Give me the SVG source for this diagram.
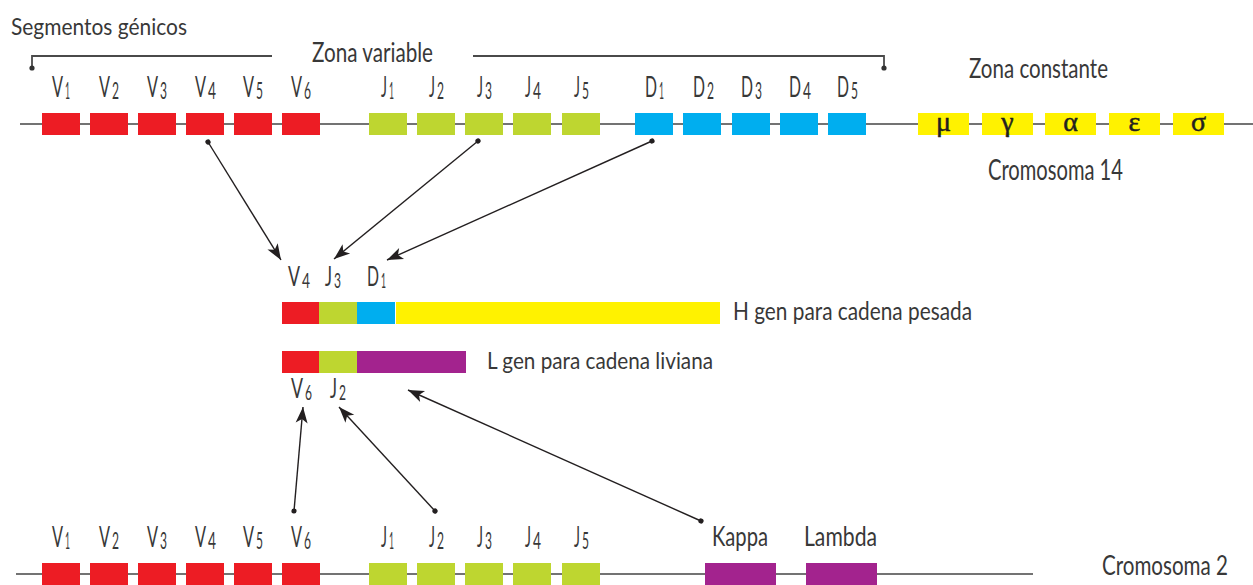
<svg xmlns="http://www.w3.org/2000/svg" width="1253" height="585" viewBox="0 0 1253 585">
<style>
text{font-family:Lato,"Liberation Sans",sans-serif;font-weight:400;fill:#383838}
.L{font-size:29px}
.d{font-size:24px}
.Lm{font-size:26px}
.dm{font-size:22px}
.gr{font-family:"Liberation Serif","DejaVu Serif",serif;font-weight:400;font-size:28px;text-anchor:middle;fill:#231f20;stroke:#231f20;stroke-width:0.5}
.chr{stroke:#444;stroke-width:1.6;fill:none}
.br{stroke:#4a4a4a;stroke-width:1.8;fill:none}
.r{fill:#ed1c24}.g{fill:#bed630}.b{fill:#00aeef}.y{fill:#fff200}.p{fill:#a3238e}
.ar{stroke:#231f20;stroke-width:1.4;fill:none;marker-start:url(#dot);marker-end:url(#head)}
</style>
<defs>
<marker id="head" markerUnits="userSpaceOnUse" markerWidth="18" markerHeight="14" refX="16" refY="6" orient="auto" overflow="visible">
<path d="M0,0 L16,6 L0,12 L4,6 Z" fill="#231f20"/>
</marker>
<marker id="dot" markerUnits="userSpaceOnUse" markerWidth="6" markerHeight="6" refX="3" refY="3" orient="auto" overflow="visible">
<circle cx="3" cy="3" r="2.6" fill="#231f20"/>
</marker>
</defs>

<g id="titles">
<text x="11" y="35" textLength="176" lengthAdjust="spacingAndGlyphs" style="font-size:24px">Segmentos génicos</text>
<text x="312" y="62" textLength="121" lengthAdjust="spacingAndGlyphs" style="font-size:26px">Zona variable</text>
<text x="969" y="78" textLength="139" lengthAdjust="spacingAndGlyphs" style="font-size:27px">Zona constante</text>
<text x="988" y="180" textLength="135" lengthAdjust="spacingAndGlyphs" style="font-size:28px">Cromosoma 14</text>
</g>

<g id="bracket">
<path class="br" d="M32,68 V56 H272 M473,56 H884 V68"/>
<circle cx="32" cy="68" r="2.6" fill="#333"/>
<circle cx="884" cy="68" r="2.6" fill="#333"/>
</g>

<g id="chr14">
<line class="chr" x1="20" y1="124" x2="1253" y2="124"/>
<rect class="r" x="42" y="113" width="38" height="22"/>
<rect class="r" x="90" y="113" width="38" height="22"/>
<rect class="r" x="138" y="113" width="38" height="22"/>
<rect class="r" x="186" y="113" width="38" height="22"/>
<rect class="r" x="234" y="113" width="38" height="22"/>
<rect class="r" x="282" y="113" width="38" height="22"/>
<rect class="g" x="369" y="113" width="38" height="22"/>
<rect class="g" x="417" y="113" width="38" height="22"/>
<rect class="g" x="465" y="113" width="38" height="22"/>
<rect class="g" x="513" y="113" width="38" height="22"/>
<rect class="g" x="562" y="113" width="38" height="22"/>
<rect class="b" x="635" y="113" width="38" height="22"/>
<rect class="b" x="683" y="113" width="38" height="22"/>
<rect class="b" x="732" y="113" width="38" height="22"/>
<rect class="b" x="780" y="113" width="38" height="22"/>
<rect class="b" x="828" y="113" width="38" height="22"/>
<rect class="y" x="918" y="113" width="51" height="22"/>
<rect class="y" x="982" y="113" width="51" height="22"/>
<rect class="y" x="1045" y="113" width="51" height="22"/>
<rect class="y" x="1109" y="113" width="51" height="22"/>
<rect class="y" x="1173" y="113" width="51" height="22"/>
<text class="gr" x="943.5" y="131">μ</text>
<text class="gr" x="1007.5" y="131">γ</text>
<text class="gr" x="1070.5" y="131">α</text>
<text class="gr" x="1134.5" y="131">ε</text>
<text class="gr" x="1198.5" y="131">σ</text>
<text class="L" x="52" y="97" textLength="11" lengthAdjust="spacingAndGlyphs">V</text><text class="d" x="65" y="99" textLength="5" lengthAdjust="spacingAndGlyphs">1</text>
<text class="L" x="99" y="97" textLength="11" lengthAdjust="spacingAndGlyphs">V</text><text class="d" x="112" y="99" textLength="7" lengthAdjust="spacingAndGlyphs">2</text>
<text class="L" x="147" y="97" textLength="11" lengthAdjust="spacingAndGlyphs">V</text><text class="d" x="160" y="99" textLength="7" lengthAdjust="spacingAndGlyphs">3</text>
<text class="L" x="195" y="97" textLength="11" lengthAdjust="spacingAndGlyphs">V</text><text class="d" x="208" y="99" textLength="8" lengthAdjust="spacingAndGlyphs">4</text>
<text class="L" x="243" y="97" textLength="11" lengthAdjust="spacingAndGlyphs">V</text><text class="d" x="256" y="99" textLength="7" lengthAdjust="spacingAndGlyphs">5</text>
<text class="L" x="291" y="97" textLength="11" lengthAdjust="spacingAndGlyphs">V</text><text class="d" x="304" y="99" textLength="7" lengthAdjust="spacingAndGlyphs">6</text>
<text class="L" x="381" y="97" textLength="6" lengthAdjust="spacingAndGlyphs">J</text><text class="d" x="389" y="99" textLength="5" lengthAdjust="spacingAndGlyphs">1</text>
<text class="L" x="429" y="97" textLength="6" lengthAdjust="spacingAndGlyphs">J</text><text class="d" x="437" y="99" textLength="7" lengthAdjust="spacingAndGlyphs">2</text>
<text class="L" x="477" y="97" textLength="6" lengthAdjust="spacingAndGlyphs">J</text><text class="d" x="485" y="99" textLength="7" lengthAdjust="spacingAndGlyphs">3</text>
<text class="L" x="525" y="97" textLength="6" lengthAdjust="spacingAndGlyphs">J</text><text class="d" x="533" y="99" textLength="8" lengthAdjust="spacingAndGlyphs">4</text>
<text class="L" x="574" y="97" textLength="6" lengthAdjust="spacingAndGlyphs">J</text><text class="d" x="582" y="99" textLength="7" lengthAdjust="spacingAndGlyphs">5</text>
<text class="L" x="645" y="97" textLength="12" lengthAdjust="spacingAndGlyphs">D</text><text class="d" x="659" y="99" textLength="5" lengthAdjust="spacingAndGlyphs">1</text>
<text class="L" x="693" y="97" textLength="12" lengthAdjust="spacingAndGlyphs">D</text><text class="d" x="707" y="99" textLength="7" lengthAdjust="spacingAndGlyphs">2</text>
<text class="L" x="741" y="97" textLength="12" lengthAdjust="spacingAndGlyphs">D</text><text class="d" x="755" y="99" textLength="7" lengthAdjust="spacingAndGlyphs">3</text>
<text class="L" x="789" y="97" textLength="12" lengthAdjust="spacingAndGlyphs">D</text><text class="d" x="803" y="99" textLength="8" lengthAdjust="spacingAndGlyphs">4</text>
<text class="L" x="837" y="97" textLength="12" lengthAdjust="spacingAndGlyphs">D</text><text class="d" x="851" y="99" textLength="7" lengthAdjust="spacingAndGlyphs">5</text>
</g>

<g id="heavy">
<text class="Lm" x="288" y="286" textLength="12" lengthAdjust="spacingAndGlyphs">V</text><text class="dm" x="302" y="288" textLength="8" lengthAdjust="spacingAndGlyphs">4</text>
<text class="Lm" x="325" y="286" textLength="7" lengthAdjust="spacingAndGlyphs">J</text><text class="dm" x="334" y="288" textLength="7" lengthAdjust="spacingAndGlyphs">3</text>
<text class="Lm" x="367" y="286" textLength="12" lengthAdjust="spacingAndGlyphs">D</text><text class="dm" x="381" y="288" textLength="5" lengthAdjust="spacingAndGlyphs">1</text>
<rect class="r" x="282" y="302" width="37" height="22"/>
<rect class="g" x="319" y="302" width="38" height="22"/>
<rect class="b" x="357" y="302" width="38" height="22"/>
<rect class="y" x="396" y="302" width="324" height="22"/>
<text x="733" y="320" textLength="239" lengthAdjust="spacingAndGlyphs" style="font-size:25px">H gen para cadena pesada</text>
</g>

<g id="light">
<rect class="r" x="282" y="351" width="37" height="22"/>
<rect class="g" x="319" y="351" width="38" height="22"/>
<rect class="p" x="357" y="351" width="109" height="22"/>
<text x="487" y="369" textLength="226" lengthAdjust="spacingAndGlyphs" style="font-size:24px">L gen para cadena liviana</text>
<text class="Lm" x="291" y="398" textLength="12" lengthAdjust="spacingAndGlyphs">V</text><text class="dm" x="305" y="400" textLength="7" lengthAdjust="spacingAndGlyphs">6</text>
<text class="Lm" x="330" y="398" textLength="7" lengthAdjust="spacingAndGlyphs">J</text><text class="dm" x="339" y="400" textLength="7" lengthAdjust="spacingAndGlyphs">2</text>
</g>

<g id="chr2">
<line class="chr" x1="16" y1="574" x2="1033" y2="574"/>
<rect class="r" x="42" y="563" width="38" height="22"/>
<rect class="r" x="90" y="563" width="38" height="22"/>
<rect class="r" x="138" y="563" width="38" height="22"/>
<rect class="r" x="186" y="563" width="38" height="22"/>
<rect class="r" x="234" y="563" width="38" height="22"/>
<rect class="r" x="282" y="563" width="38" height="22"/>
<rect class="g" x="369" y="563" width="38" height="22"/>
<rect class="g" x="417" y="563" width="38" height="22"/>
<rect class="g" x="465" y="563" width="38" height="22"/>
<rect class="g" x="513" y="563" width="38" height="22"/>
<rect class="g" x="562" y="563" width="38" height="22"/>
<rect class="p" x="705" y="563" width="71" height="22"/>
<rect class="p" x="806" y="563" width="71" height="22"/>
<text class="L" x="52" y="547" textLength="11" lengthAdjust="spacingAndGlyphs">V</text><text class="d" x="65" y="549" textLength="5" lengthAdjust="spacingAndGlyphs">1</text>
<text class="L" x="99" y="547" textLength="11" lengthAdjust="spacingAndGlyphs">V</text><text class="d" x="112" y="549" textLength="7" lengthAdjust="spacingAndGlyphs">2</text>
<text class="L" x="147" y="547" textLength="11" lengthAdjust="spacingAndGlyphs">V</text><text class="d" x="160" y="549" textLength="7" lengthAdjust="spacingAndGlyphs">3</text>
<text class="L" x="195" y="547" textLength="11" lengthAdjust="spacingAndGlyphs">V</text><text class="d" x="208" y="549" textLength="8" lengthAdjust="spacingAndGlyphs">4</text>
<text class="L" x="243" y="547" textLength="11" lengthAdjust="spacingAndGlyphs">V</text><text class="d" x="256" y="549" textLength="7" lengthAdjust="spacingAndGlyphs">5</text>
<text class="L" x="291" y="547" textLength="11" lengthAdjust="spacingAndGlyphs">V</text><text class="d" x="304" y="549" textLength="7" lengthAdjust="spacingAndGlyphs">6</text>
<text class="L" x="381" y="547" textLength="6" lengthAdjust="spacingAndGlyphs">J</text><text class="d" x="389" y="549" textLength="5" lengthAdjust="spacingAndGlyphs">1</text>
<text class="L" x="429" y="547" textLength="6" lengthAdjust="spacingAndGlyphs">J</text><text class="d" x="437" y="549" textLength="7" lengthAdjust="spacingAndGlyphs">2</text>
<text class="L" x="477" y="547" textLength="6" lengthAdjust="spacingAndGlyphs">J</text><text class="d" x="485" y="549" textLength="7" lengthAdjust="spacingAndGlyphs">3</text>
<text class="L" x="525" y="547" textLength="6" lengthAdjust="spacingAndGlyphs">J</text><text class="d" x="533" y="549" textLength="8" lengthAdjust="spacingAndGlyphs">4</text>
<text class="L" x="574" y="547" textLength="6" lengthAdjust="spacingAndGlyphs">J</text><text class="d" x="582" y="549" textLength="7" lengthAdjust="spacingAndGlyphs">5</text>
<text x="712" y="546" textLength="56" lengthAdjust="spacingAndGlyphs" style="font-size:26px">Kappa</text>
<text x="804" y="546" textLength="73" lengthAdjust="spacingAndGlyphs" style="font-size:26px">Lambda</text>
<text x="1102" y="575" textLength="126" lengthAdjust="spacingAndGlyphs" style="font-size:26px">Cromosoma 2</text>
</g>

<g id="connectors">
<line class="ar" x1="208" y1="142" x2="281" y2="260"/>
<line class="ar" x1="478" y1="141" x2="334" y2="259"/>
<line class="ar" x1="652" y1="141" x2="387" y2="260"/>
<line class="ar" x1="294" y1="511" x2="303" y2="407"/>
<line class="ar" x1="435" y1="511" x2="339" y2="407"/>
<line class="ar" x1="701" y1="521" x2="408" y2="390"/>
</g>
</svg>
